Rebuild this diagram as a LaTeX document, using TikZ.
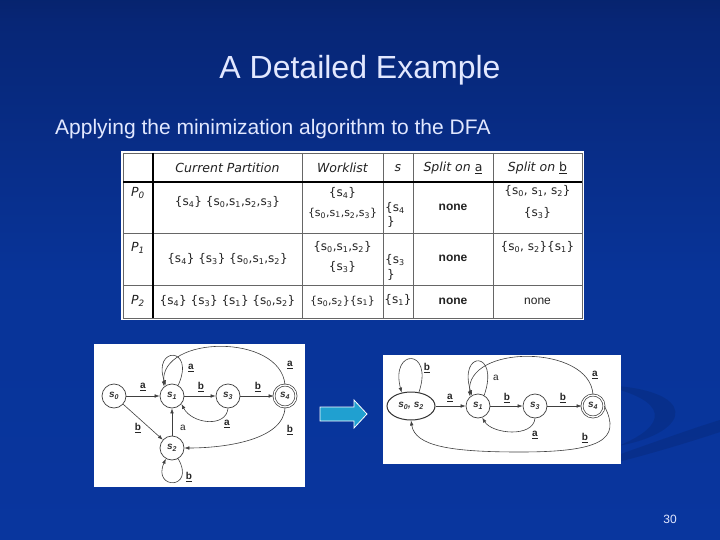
\documentclass[tikz,border=0pt]{standalone}
\usepackage{fontspec}
\setmainfont{Liberation Sans}
\setsansfont{Liberation Sans}
\newfontfamily\tabfont{DejaVu Sans}
\usetikzlibrary{arrows.meta,shapes.geometric}
\definecolor{bgtop}{RGB}{0,5,20}
\definecolor{bgmid}{RGB}{7,38,118}
\definecolor{bgbot}{RGB}{9,56,165}
\definecolor{titlecol}{RGB}{226,232,255}
\definecolor{arrowcol}{RGB}{32,160,208}
\definecolor{ink}{RGB}{34,34,34}
\pgfdeclareverticalshading{slidebg}{100bp}{color(0bp)=(bgbot); color(50bp)=(bgbot!92!black); color(73bp)=(bgmid); color(100bp)=(bgtop)}
\newcommand{\sx}[1]{s\textsubscript{#1}}
\begin{document}
\begin{tikzpicture}[x=1pt,y=-1pt,
  gridl/.style={draw=black!60,line width=0.7pt},
  gridb/.style={draw=black,line width=1.4pt},
  cell/.style={font=\tabfont\fontsize{12}{14}\selectfont,text=ink,inner sep=0pt},
  wcell/.style={font=\tabfont\fontsize{11}{13}\selectfont,text=ink,inner sep=0pt},
  hcell/.style={font=\tabfont\itshape\fontsize{12.5}{14}\selectfont,text=ink,inner sep=0pt},
  nonecell/.style={font=\bfseries\fontsize{12}{14}\selectfont,text=ink,inner sep=0pt},
  st/.style={circle,draw=black!75,line width=0.7pt,minimum size=24pt,inner sep=0pt,font=\fontsize{10}{10}\selectfont\bfseries\itshape,text=black!80},
  acc/.style={st,double=white,double distance=1.3pt,minimum size=22pt},
  ed/.style={draw=black!75,line width=0.6pt,-{Latex[length=5pt,width=3.6pt]}},
  el/.style={font=\fontsize{10}{10}\selectfont\bfseries,text=black!85,inner sep=0pt}
]
\useasboundingbox (0,0) rectangle (720,540);
\shade[shading=slidebg] (0,0) rectangle (720,540);
% faint swoosh
\fill[black,opacity=0.10] (600,385) .. controls (700,388) and (695,432) .. (618,446) .. controls (668,426) and (672,400) .. (600,385) -- cycle;
\fill[black,opacity=0.10] (618,455) .. controls (660,440) and (700,426) .. (720,420) -- (720,432) .. controls (690,442) and (650,454) .. (618,462) -- cycle;

% title
\node[font=\fontsize{32}{36}\selectfont,text=titlecol] (title) at (360,70) {A Detailed Example};
\node[font=\fontsize{21}{24}\selectfont,text=titlecol,anchor=west,inner sep=0pt] (sub) at (55,129) {Applying the minimization algorithm to the DFA};

% table
\fill[white] (121,151) rectangle (584,320);
\draw[gridl] (302,153) -- (302,318) (383,153) -- (383,318) (413,153) -- (413,318) (493,153) -- (493,318);
\draw[gridl] (123,233) -- (582,233) (123,285) -- (582,285);
\draw[gridl] (123,153) rectangle (582,318);
\draw[gridb] (153,153) -- (153,318);
\draw[gridb] (123,182) -- (582,182);

\node[hcell] (hcp) at (227.5,168) {Current Partition};
\node[hcell] (hwl) at (342.5,168) {Worklist};
\node[hcell] (hs) at (398,168) {s};
\node[hcell] (hsa) at (453,168) {Split on \underline{\upshape a}};
\node[hcell] (hsb) at (537.5,168) {Split on \underline{\upshape b}};

\node[hcell] (p0) at (138,193) {P\textsubscript{0}};
\node[hcell] (p1) at (138,248) {P\textsubscript{1}};
\node[hcell] (p2) at (138,301) {P\textsubscript{2}};

\node[cell] (c01) at (227.5,202) {\{\sx4\} \{\sx0,\sx1,\sx2,\sx3\}};
\node[cell] (c02a) at (342.5,193) {\{\sx4\}};
\node[wcell] (c02b) at (342.5,213) {\{\sx0,\sx1,\sx2,\sx3\}};
\node[cell,anchor=west] (c03a) at (385,208) {\{\sx4};
\node[cell] (c03b) at (391,222) {\}};
\node[nonecell] (c04) at (453,207) {none};
\node[cell] (c05a) at (537.5,191) {\{\sx0, \sx1, \sx2\}};
\node[cell] (c05b) at (537.5,213) {\{\sx3\}};

\node[cell] (c11) at (227.5,259) {\{\sx4\} \{\sx3\} \{\sx0,\sx1,\sx2\}};
\node[cell] (c12a) at (342.5,247) {\{\sx0,\sx1,\sx2\}};
\node[cell] (c12b) at (342.5,267) {\{\sx3\}};
\node[cell,anchor=west] (c13a) at (385,260) {\{\sx3};
\node[cell] (c13b) at (391,275) {\}};
\node[nonecell] (c14) at (453,258) {none};
\node[cell] (c15) at (537.5,247) {\{\sx0, \sx2\}\{\sx1\}};

\node[cell] (c21) at (227.5,301) {\{\sx4\} \{\sx3\} \{\sx1\} \{\sx0,\sx2\}};
\node[wcell] (c22) at (342.5,301) {\{\sx0,\sx2\}\{\sx1\}};
\node[cell] (c23) at (398,300) {\{\sx1\}};
\node[nonecell] (c24) at (453,301) {none};
\node[nonecell,font=\fontsize{12}{14}\selectfont] (c25) at (537.5,301) {none};

% left DFA
\fill[white] (94,344) rectangle (305,487);
\node[st] (a0) at (114,396) {\sx0};
\node[st] (a1) at (172,396) {\sx1};
\node[st] (a3) at (228,396) {\sx3};
\node[acc] (a4) at (285,396) {\sx4};
\node[st] (a2) at (172,448) {\sx2};
\draw[ed] (a0) -- (a1);
\draw[ed] (a1) -- (a3);
\draw[ed] (a3) -- (a4);
\draw[ed] (a0) -- (a2);
\draw[ed] (a2) -- (a1);
\draw[ed] (a1.60) .. controls (196,346) and (152,346) .. (a1.120);
\draw[ed] (a4.north) .. controls (280,333) and (160,335) .. (a1.130);
\draw[ed] (a3.south) .. controls (226,428) and (192,424) .. (a1.-40);
\draw[ed] (a4.south) .. controls (284,440) and (225,448) .. (a2.east);
\draw[ed] (a2.-60) .. controls (196,490) and (152,490) .. (a2.-120);
\node[el] (la01) at (143,387) {\underline{a}};
\node[el] (la13) at (201,387) {\underline{b}};
\node[el] (la34) at (258,387) {\underline{b}};
\node[el] (la11) at (191,368) {\underline{a}};
\node[el] (la41) at (290,365) {\underline{a}};
\node[el] (la31) at (227,424) {\underline{a}};
\node[el] (la02) at (138,428) {\underline{b}};
\node[el,font=\fontsize{10}{10}\selectfont] (la21) at (183,428) {a};
\node[el] (la42) at (290,430) {\underline{b}};
\node[el] (la22) at (189,477) {\underline{b}};

% arrow
\draw[white,line width=0.8pt,fill=arrowcol] (320,407) -- (354,407) -- (354,400) -- (367,414) -- (354,428) -- (354,421) -- (320,421) -- cycle;

% right DFA
\fill[white] (383,355) rectangle (621,464);
\node[ellipse,draw=black!80,line width=1pt,minimum width=48pt,minimum height=28pt,inner sep=0pt,font=\fontsize{10}{10}\selectfont\bfseries\itshape,text=black!80] (b02) at (411,406) {\sx0, \sx2};
\node[st] (b1) at (478,406) {\sx1};
\node[st] (b3) at (535,406) {\sx3};
\node[acc] (b4) at (593,406) {\sx4};
\draw[ed] (b02) -- (b1);
\draw[ed] (b1) -- (b3);
\draw[ed] (b3) -- (b4);
\draw[ed] (b02.60) .. controls (434,348) and (390,348) .. (b02.125);
\draw[ed] (b1.60) .. controls (500,350) and (458,350) .. (b1.120);
\draw[ed] (b4.north) .. controls (590,344) and (465,344) .. (b1.130);
\draw[ed] (b3.south) .. controls (533,438) and (492,434) .. (b1.-70);
\draw[ed] (b4.east) .. controls (622,440) and (600,452) .. (520,452) .. controls (450,452) and (415,446) .. (b02.-90);
\node[el] (lb00) at (427,368) {\underline{b}};
\node[el] (lb01) at (450,398) {\underline{a}};
\node[el,font=\fontsize{10}{10}\selectfont] (lb11) at (496,378) {a};
\node[el] (lb13) at (507,398) {\underline{b}};
\node[el] (lb34) at (563,398) {\underline{b}};
\node[el] (lb41) at (595,375) {\underline{a}};
\node[el] (lb31) at (535,435) {\underline{a}};
\node[el] (lb40) at (585,438) {\underline{b}};

% page number
\node[font=\fontsize{12}{14}\selectfont,text=titlecol] (pg) at (670,519) {30};
\end{tikzpicture}
\end{document}
